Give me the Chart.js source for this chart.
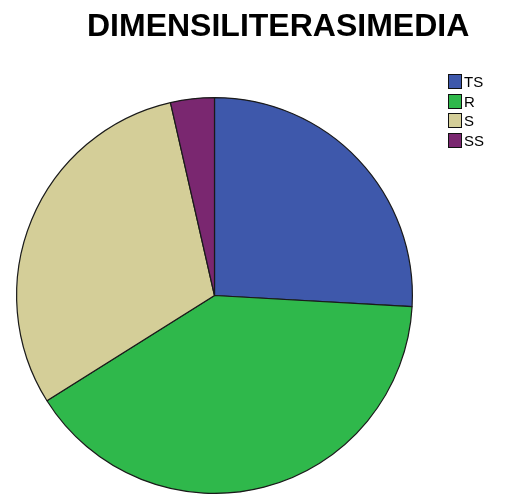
<!DOCTYPE html>
<html>
<head>
<meta charset="utf-8">
<script src="https://cdn.jsdelivr.net/npm/chart.js@4.4.1/dist/chart.umd.min.js"></script>
<style>
  html, body { margin: 0; padding: 0; background: #fff; }
  #wrap { position: relative; width: 506px; height: 494px; overflow: hidden; }
  #title {
    position: absolute; left: 87px; top: 7px; white-space: nowrap;
    font: bold 32px "Liberation Sans", Arial, sans-serif; color: #000;
  }
  #legend { position: absolute; left: 448px; top: 72px; font: 15px "Liberation Sans", Arial, sans-serif; color: #000; }
  .item { display: flex; align-items: center; height: 19.6px; }
  .box { width: 12px; height: 13px; border: 1px solid #111; margin-right: 2px; box-sizing: content-box; }
  canvas { position: absolute; left: 0; top: 0; }
</style>
</head>
<body>
<div id="wrap">
  <canvas id="c" width="506" height="494"></canvas>
  <div id="title">DIMENSILITERASIMEDIA</div>
  <div id="legend"></div>
</div>
<script>
// Response categories and their counts
const categories = ['TS', 'R', 'S', 'SS'];
const counts = [29, 45, 34, 4];
const colors = ['#3e58ab', '#2fb84b', '#d4ce98', '#7a2770'];

// Legend built from the same arrays
const legend = document.getElementById('legend');
categories.forEach((name, i) => {
  const row = document.createElement('div');
  row.className = 'item';
  const box = document.createElement('span');
  box.className = 'box';
  box.style.background = colors[i];
  const label = document.createElement('span');
  label.textContent = name;
  row.appendChild(box);
  row.appendChild(label);
  legend.appendChild(row);
});

new Chart(document.getElementById('c'), {
  type: 'pie',
  data: {
    labels: categories,
    datasets: [{
      data: counts,
      backgroundColor: colors,
      borderColor: '#1a1a1a',
      borderWidth: 1.2
    }]
  },
  options: {
    responsive: false,
    animation: false,
    rotation: 0,
    layout: { padding: { left: 15, right: 92, top: 97, bottom: 0 } },
    plugins: {
      legend: { display: false },
      title: { display: false },
      tooltip: { enabled: false }
    }
  }
});
</script>
</body>
</html>
